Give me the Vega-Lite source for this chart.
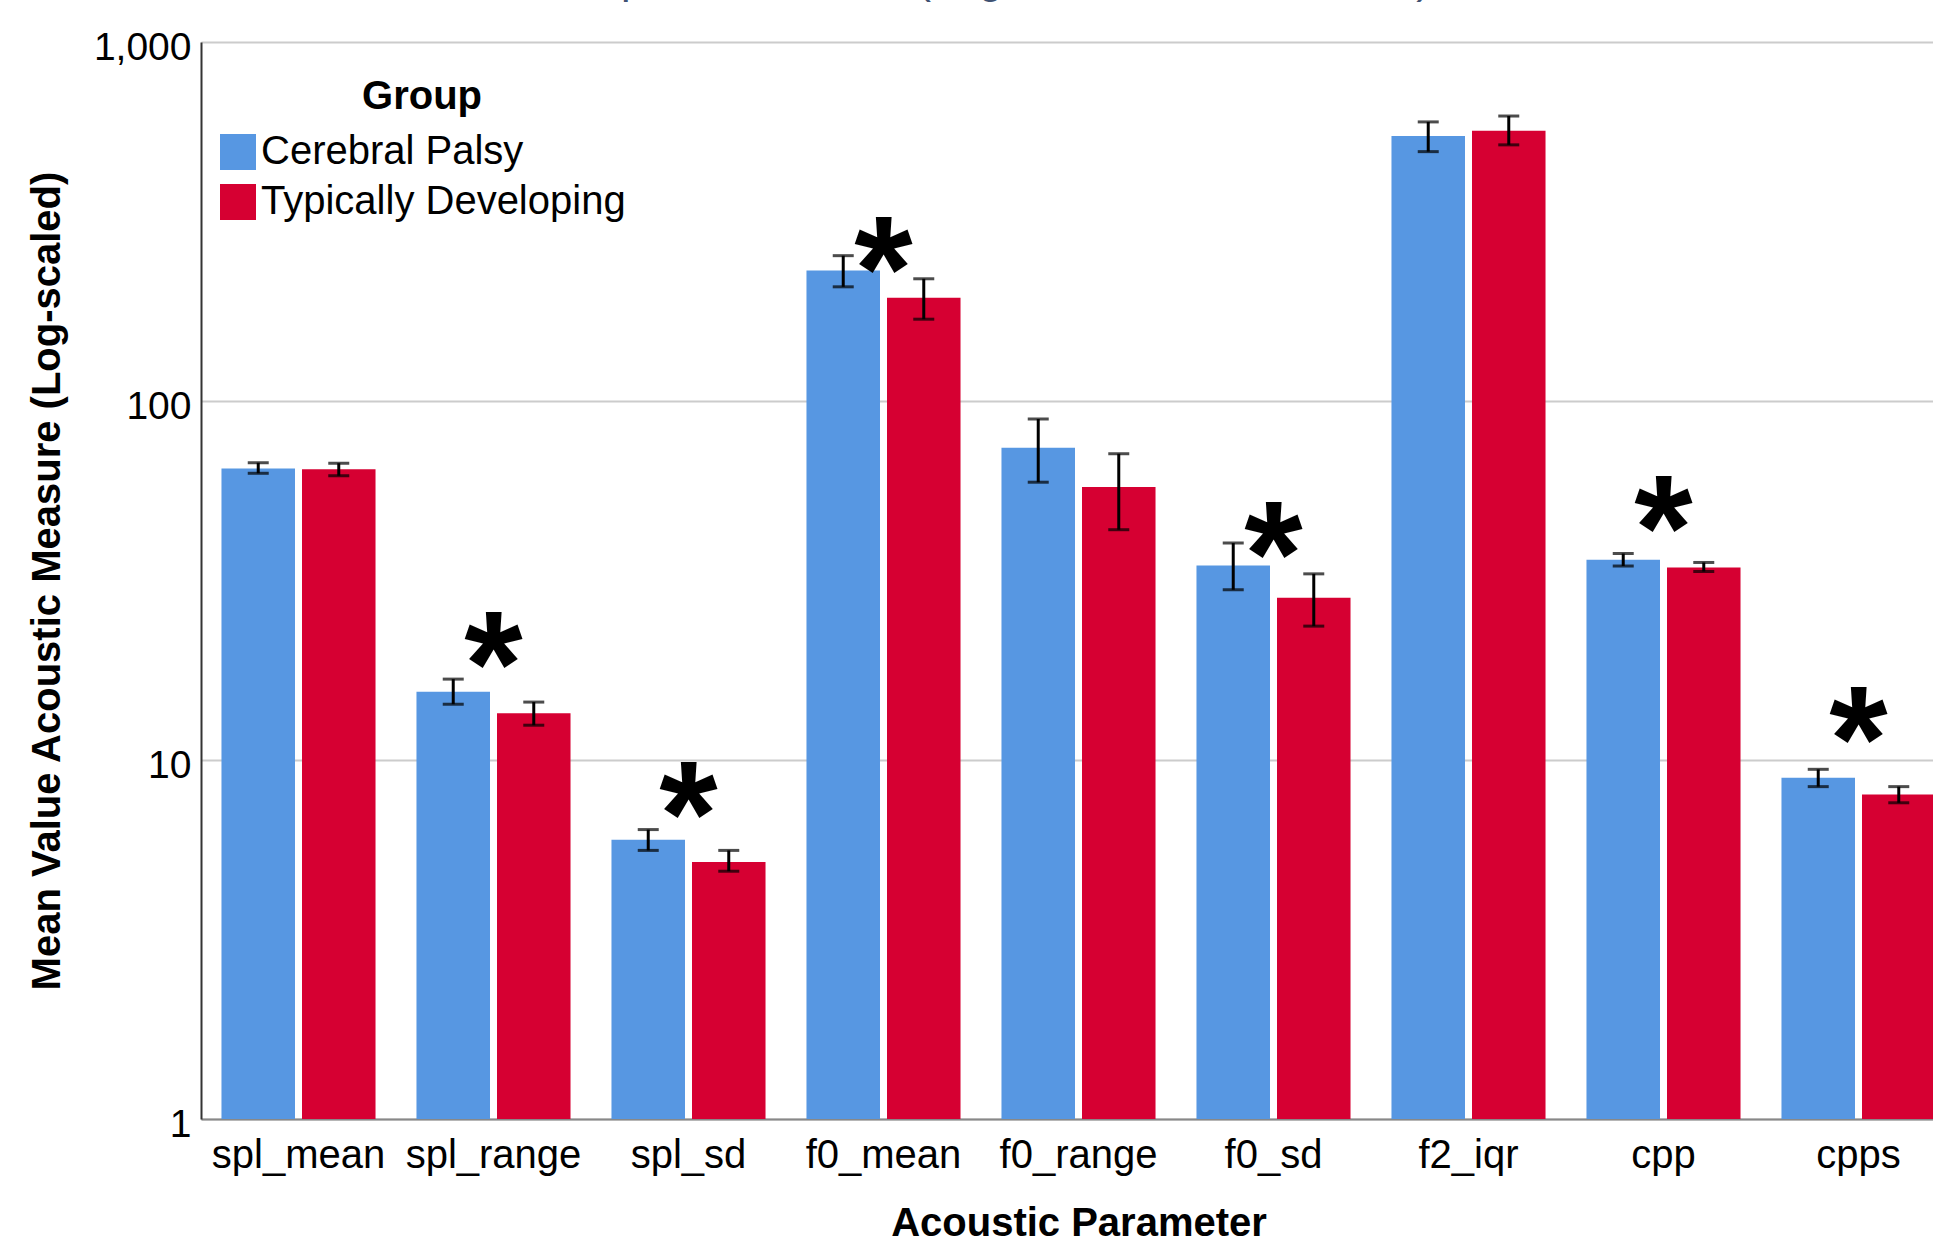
{
  "$schema": "https://vega.github.io/schema/vega-lite/v6.json",
  "autosize": "none",
  "width": 1732,
  "height": 1077,
  "padding": {"left": 201, "top": 42, "right": 0, "bottom": 132},
  "background": "white",
  "title": {
    "text": "Group Mean Values (Log-scaled Acoustic Data)",
    "font": "Liberation Sans",
    "fontSize": 43,
    "fontWeight": "normal",
    "color": "#3F5273",
    "anchor": "middle",
    "frame": "group",
    "baseline": "alphabetic",
    "offset": 0,
    "dx": -89,
    "dy": 8
  },
  "config": {
    "font": "Liberation Sans",
    "view": {"stroke": null},
    "axisY": {
      "ticks": false,
      "grid": true,
      "gridColor": "#cccccc",
      "gridWidth": 2,
      "domain": true,
      "domainColor": "#333333",
      "domainWidth": 2,
      "labelFont": "Liberation Sans",
      "labelFontSize": 39,
      "labelColor": "#000000",
      "labelPadding": 10,
      "labelOffset": 5,
      "titleFont": "Liberation Sans",
      "titleFontSize": 40,
      "titleFontWeight": "bold",
      "titleColor": "#000000",
      "titlePadding": 26
    },
    "legend": {
      "orient": "none",
      "legendX": 17,
      "legendY": 35,
      "padding": 0,
      "direction": "vertical",
      "symbolType": "square",
      "symbolSize": 1296,
      "symbolStrokeWidth": 0,
      "labelFont": "Liberation Sans",
      "labelFontSize": 40,
      "labelColor": "#000000",
      "labelOffset": 3,
      "labelLimit": 800,
      "rowPadding": 10,
      "titleFont": "Liberation Sans",
      "titleFontSize": 40,
      "titleFontWeight": "bold",
      "titleColor": "#000000",
      "titleAnchor": "middle",
      "titleAlign": "center",
      "titlePadding": 15,
      "titleLimit": 800
    }
  },
  "datasets": {
    "means": [
      {"param": "spl_mean", "group": "Cerebral Palsy", "mean": 64.9, "lo": 62.9, "hi": 67.3},
      {"param": "spl_mean", "group": "Typically Developing", "mean": 64.5, "lo": 61.9, "hi": 67.1},
      {"param": "spl_range", "group": "Cerebral Palsy", "mean": 15.5, "lo": 14.3, "hi": 16.8},
      {"param": "spl_range", "group": "Typically Developing", "mean": 13.5, "lo": 12.5, "hi": 14.5},
      {"param": "spl_sd", "group": "Cerebral Palsy", "mean": 6.0, "lo": 5.6, "hi": 6.4},
      {"param": "spl_sd", "group": "Typically Developing", "mean": 5.2, "lo": 4.9, "hi": 5.6},
      {"param": "f0_mean", "group": "Cerebral Palsy", "mean": 231, "lo": 208, "hi": 254},
      {"param": "f0_mean", "group": "Typically Developing", "mean": 194, "lo": 169, "hi": 219},
      {"param": "f0_range", "group": "Cerebral Palsy", "mean": 74.1, "lo": 59.4, "hi": 89.1},
      {"param": "f0_range", "group": "Typically Developing", "mean": 57.6, "lo": 43.8, "hi": 71.3},
      {"param": "f0_sd", "group": "Cerebral Palsy", "mean": 34.8, "lo": 29.8, "hi": 40.2},
      {"param": "f0_sd", "group": "Typically Developing", "mean": 28.3, "lo": 23.6, "hi": 33.0},
      {"param": "f2_iqr", "group": "Cerebral Palsy", "mean": 547, "lo": 495, "hi": 599},
      {"param": "f2_iqr", "group": "Typically Developing", "mean": 566, "lo": 517, "hi": 622},
      {"param": "cpp", "group": "Cerebral Palsy", "mean": 36.1, "lo": 34.7, "hi": 37.6},
      {"param": "cpp", "group": "Typically Developing", "mean": 34.4, "lo": 33.5, "hi": 35.5},
      {"param": "cpps", "group": "Cerebral Palsy", "mean": 8.93, "lo": 8.43, "hi": 9.42},
      {"param": "cpps", "group": "Typically Developing", "mean": 8.01, "lo": 7.6, "hi": 8.43}
    ],
    "significance": [
      {"param": "spl_range", "level": 21.9, "marker": "*"},
      {"param": "spl_sd", "level": 8.36, "marker": "*"},
      {"param": "f0_mean", "level": 275, "marker": "*"},
      {"param": "f0_sd", "level": 44.3, "marker": "*"},
      {"param": "cpp", "level": 52.3, "marker": "*"},
      {"param": "cpps", "level": 13.5, "marker": "*"}
    ]
  },
  "encoding": {
    "x": {
      "field": "param",
      "type": "nominal",
      "scale": {
        "domain": ["spl_mean", "spl_range", "spl_sd", "f0_mean", "f0_range", "f0_sd", "f2_iqr", "cpp", "cpps"],
        "range": [0, 1755],
        "paddingInner": 0.21,
        "paddingOuter": 0.105
      },
      "axis": {
        "title": "Acoustic Parameter",
        "labelAngle": 0,
        "labelOverlap": false,
        "ticks": false,
        "domainColor": "#888888",
        "domainWidth": 2,
        "labelFont": "Liberation Sans",
        "labelFontSize": 40,
        "labelColor": "#000000",
        "labelPadding": 16,
        "titleFont": "Liberation Sans",
        "titleFontSize": 40,
        "titleFontWeight": "bold",
        "titleColor": "#000000",
        "titlePadding": 28
      }
    }
  },
  "layer": [
    {
      "data": {"name": "means"},
      "mark": {"type": "bar"},
      "encoding": {
        "xOffset": {"field": "group", "type": "nominal", "scale": {"paddingInner": 0.087, "paddingOuter": 0}},
        "y": {
          "field": "mean",
          "type": "quantitative",
          "stack": null,
          "scale": {"type": "log", "domain": [1, 1000], "nice": false},
          "axis": {"title": "Mean Value Acoustic Measure (Log-scaled)", "values": [1, 10, 100, 1000], "format": ","}
        },
        "y2": {"datum": 1},
        "color": {
          "field": "group",
          "type": "nominal",
          "scale": {"domain": ["Cerebral Palsy", "Typically Developing"], "range": ["#5797E2", "#D60032"]},
          "legend": {"title": "Group"}
        }
      }
    },
    {
      "data": {"name": "means"},
      "mark": {"type": "rule", "strokeWidth": 3, "color": "#000000"},
      "encoding": {
        "xOffset": {"field": "group", "type": "nominal", "scale": {"paddingInner": 0.087, "paddingOuter": 0}},
        "y": {"field": "lo", "type": "quantitative", "scale": {"type": "log", "domain": [1, 1000], "nice": false}, "axis": {"title": "Mean Value Acoustic Measure (Log-scaled)", "values": [1, 10, 100, 1000], "format": ","}},
        "y2": {"field": "hi"}
      }
    },
    {
      "data": {"name": "means"},
      "mark": {"type": "tick", "orient": "horizontal", "thickness": 3, "size": 21, "color": "#000000"},
      "encoding": {
        "xOffset": {"field": "group", "type": "nominal", "scale": {"paddingInner": 0.087, "paddingOuter": 0}},
        "y": {"field": "lo", "type": "quantitative", "scale": {"type": "log", "domain": [1, 1000], "nice": false}, "axis": {"title": "Mean Value Acoustic Measure (Log-scaled)", "values": [1, 10, 100, 1000], "format": ","}}
      }
    },
    {
      "data": {"name": "means"},
      "mark": {"type": "tick", "orient": "horizontal", "thickness": 3, "size": 21, "color": "#000000"},
      "encoding": {
        "xOffset": {"field": "group", "type": "nominal", "scale": {"paddingInner": 0.087, "paddingOuter": 0}},
        "y": {"field": "hi", "type": "quantitative", "scale": {"type": "log", "domain": [1, 1000], "nice": false}, "axis": {"title": "Mean Value Acoustic Measure (Log-scaled)", "values": [1, 10, 100, 1000], "format": ","}}
      }
    },
    {
      "data": {"name": "significance"},
      "mark": {"type": "text", "font": "Liberation Sans", "fontSize": 150, "fontWeight": "bold", "color": "#000000", "align": "center", "baseline": "alphabetic", "dy": 78},
      "encoding": {
        "y": {"field": "level", "type": "quantitative", "scale": {"type": "log", "domain": [1, 1000], "nice": false}, "axis": {"title": "Mean Value Acoustic Measure (Log-scaled)", "values": [1, 10, 100, 1000], "format": ","}},
        "text": {"field": "marker", "type": "nominal"}
      }
    }
  ]
}
